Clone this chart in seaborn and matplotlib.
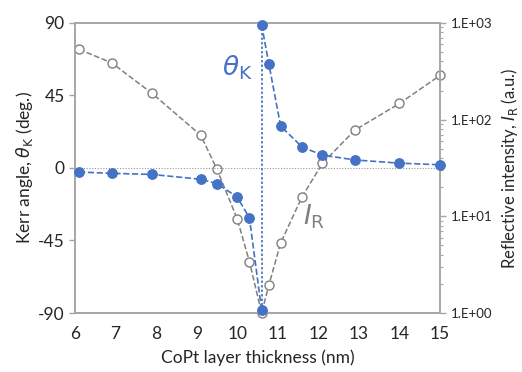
import matplotlib
matplotlib.use("Agg")
import matplotlib.pyplot as plt
import matplotlib.ticker as mticker
import seaborn as sns
import pandas as pd

# Kerr angle (left axis), split at the jump near 10.6 nm
kerr_x_low = [6.1, 6.9, 7.9, 9.1, 9.5, 10.0, 10.3, 10.6]
kerr_y_low = [-2.5, -3.3, -4.0, -7.0, -9.7, -18.0, -31.0, -88.0]
kerr_x_high = [10.6, 10.78, 11.07, 11.6, 12.1, 12.9, 14.0, 15.0]
kerr_y_high = [89.0, 64.5, 26.0, 13.0, 8.0, 5.0, 3.0, 2.0]

# Reflective intensity (right axis, log scale)
refl_x = [6.1, 6.9, 7.9, 9.1, 9.5, 10.0, 10.3, 10.6, 10.78, 11.07, 11.6, 12.1, 12.9, 14.0, 15.0]
refl_y = [533, 388, 187, 69, 30.6, 9.4, 3.4, 1.0, 1.95, 5.3, 16, 35.3, 78, 147, 287]

x_ticks = [6, 7, 8, 9, 10, 11, 12, 13, 14, 15]
left_ticks = [-90, -45, 0, 45, 90]
right_ticks = [1, 10, 100, 1000]
right_labels = ["1.E+00", "1.E+01", "1.E+02", "1.E+03"]

blue = "#4472C4"
grey = "#808080"

sns.set_style("white")
plt.rcParams["font.family"] = ["Lato", "DejaVu Sans"]
plt.rcParams["mathtext.fontset"] = "dejavusans"
plt.rcParams["axes.unicode_minus"] = False

fig = plt.figure(figsize=(5.22, 3.72), dpi=100)
ax = fig.add_axes([0.1437, 0.1586, 0.6993, 0.7796])
ax2 = ax.twinx()

# zero line
ax.axhline(0, color="#999999", lw=0.8, ls=(0, (1, 1.5)), zorder=1)

# reflective intensity, open circles
df_r = pd.DataFrame({"x": refl_x, "y": refl_y})
sns.lineplot(data=df_r, x="x", y="y", ax=ax2, sort=False, estimator=None,
             color=grey, lw=1.1, linestyle="--", marker="o", markersize=6.5,
             markerfacecolor="white", markeredgecolor=grey, markeredgewidth=1.0,
             clip_on=False)

# Kerr angle, filled circles
df_lo = pd.DataFrame({"x": kerr_x_low, "y": kerr_y_low})
df_hi = pd.DataFrame({"x": kerr_x_high, "y": kerr_y_high})
ax.plot([kerr_x_low[-1], kerr_x_high[0]], [kerr_y_low[-1], kerr_y_high[0]],
        color=blue, lw=1.2, ls=(0, (1.5, 1.2)), zorder=3)
for d in (df_lo, df_hi):
    sns.lineplot(data=d, x="x", y="y", ax=ax, sort=False, estimator=None,
                 color=blue, lw=1.2, linestyle="--", marker="o", markersize=7,
                 markeredgecolor=blue, clip_on=False, zorder=4)

ax.set_zorder(ax2.get_zorder() + 1)
ax.patch.set_visible(False)

ax.set_xlim(6, 15)
ax.set_ylim(-90, 90)
ax.set_xticks(x_ticks)
ax.set_yticks(left_ticks)
ax2.set_yscale("log")
ax2.set_ylim(1, 1000)
ax2.set_yticks(right_ticks)
ax2.set_yticklabels(right_labels)
ax2.yaxis.set_minor_locator(mticker.LogLocator(base=10, subs=range(2, 10)))
ax2.yaxis.set_minor_formatter(mticker.NullFormatter())

for a in (ax, ax2):
    for s in a.spines.values():
        s.set_color("#a6a6a6")
        s.set_linewidth(1.2)
ax.tick_params(axis="both", direction="out", length=4, width=1, color="#a6a6a6",
               labelsize=12.5, labelcolor="#262626")
ax.tick_params(axis="x", pad=5)
ax2.tick_params(axis="y", which="major", direction="out", length=4, width=1,
                color="#a6a6a6", labelsize=9.5, labelcolor="#262626")
ax2.tick_params(axis="y", which="minor", direction="out", length=2.5, width=0.8,
                color="#a6a6a6")

ax.set_xlabel("CoPt layer thickness (nm)", fontsize=12.5, color="#262626", labelpad=6)
ax.set_ylabel(r"Kerr angle, $\theta_\mathrm{K}$ (deg.)", fontsize=12.5, color="#262626", labelpad=2)
ax2.set_ylabel(r"Reflective intensity, $I_\mathrm{R}$ (a.u.)", fontsize=12, color="#262626", labelpad=5)

ax.text(10.0, 62, r"$\theta_\mathrm{K}$", color=blue, fontsize=19, ha="center", va="center")
ax.text(11.9, -30, r"$I_\mathrm{R}$", color=grey, fontsize=19, ha="center", va="center")

fig.savefig("out.png", dpi=100)
